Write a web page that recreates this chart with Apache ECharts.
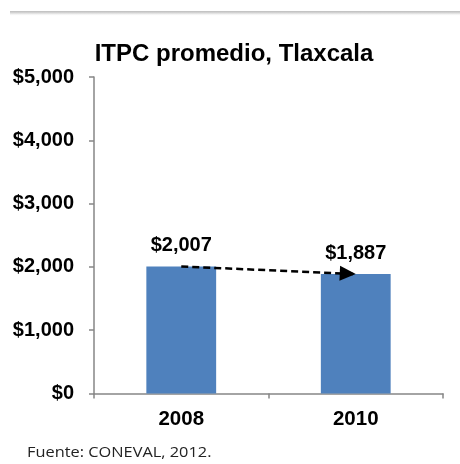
<!DOCTYPE html>
<html><head><meta charset="utf-8">
<script src="https://cdn.jsdelivr.net/npm/echarts@6/dist/echarts.min.js"></script>
<style>html,body{margin:0;padding:0;background:#fff}#c{width:460px;height:464px}</style>
</head><body><div id="c"></div>
<script>
const categories = ['2008', '2010'];
const values = [2007, 1887];
const valueLabels = ['$2,007', '$1,887'];
const yTicks = [0, 1000, 2000, 3000, 4000, 5000];
const title = 'ITPC promedio, Tlaxcala';
const source = 'Fuente: CONEVAL, 2012.';

const chart = echarts.init(document.getElementById('c'), null, {renderer: 'canvas'});
const fmt = v => '$' + v.toLocaleString('en-US');
chart.setOption({
  animation: false,
  title: {
    text: title, left: 229, top: 37, textAlign: 'center',
    textStyle: {fontFamily: 'Liberation Sans', fontWeight: 'bold', fontSize: 24, color: '#000'}
  },
  graphic: [
    {type: 'rect', shape: {x: 10, y: 11, width: 450, height: 5},
     style: {fill: new echarts.graphic.LinearGradient(0, 0, 0, 1, [
       {offset: 0, color: '#bdbdbd'}, {offset: 0.4, color: '#d8d8d8'}, {offset: 1, color: 'rgba(255,255,255,0)'}])}},
    {type: 'text', x: 27, y: 445, scaleX: 1.09,
     style: {text: source, font: '15px "Open Sans"', fill: '#222'}}
  ],
  grid: {left: 94, right: 17, top: 77, bottom: 70.5},
  xAxis: {
    type: 'category', data: categories,
    axisLine: {lineStyle: {color: '#868686', width: 1.5}},
    axisTick: {show: true, length: 5, lineStyle: {color: '#868686', width: 1.5}},
    axisLabel: {margin: 15, fontFamily: 'Liberation Sans', fontWeight: 'bold', fontSize: 20.5, color: '#000'}
  },
  yAxis: {
    type: 'value', min: yTicks[0], max: yTicks[yTicks.length - 1], interval: 1000,
    axisLine: {show: true, lineStyle: {color: '#868686', width: 1.5}},
    axisTick: {show: true, length: 5, lineStyle: {color: '#868686', width: 1.5}},
    splitLine: {show: false},
    axisLabel: {margin: 20, formatter: fmt, fontFamily: 'Liberation Sans', fontWeight: 'bold', fontSize: 20, color: '#000'}
  },
  series: [{
    type: 'bar', data: values, barWidth: '40%',
    itemStyle: {color: '#4F81BD'},
    label: {show: true, position: 'top', distance: 11,
      formatter: p => valueLabels[p.dataIndex],
      fontFamily: 'Liberation Sans', fontWeight: 'bold', fontSize: 20, color: '#000'},
    markLine: {
      silent: true, symbol: ['none', 'triangle'], symbolSize: [15, 16],
      symbolOffset: [[0, 0], [0, 8]],
      label: {show: false},
      lineStyle: {type: [7, 4], color: '#000', width: 2.5},
      data: [[{coord: [0, values[0]]}, {coord: [1, values[1]]}]]
    }
  }]
});
</script></body></html>
